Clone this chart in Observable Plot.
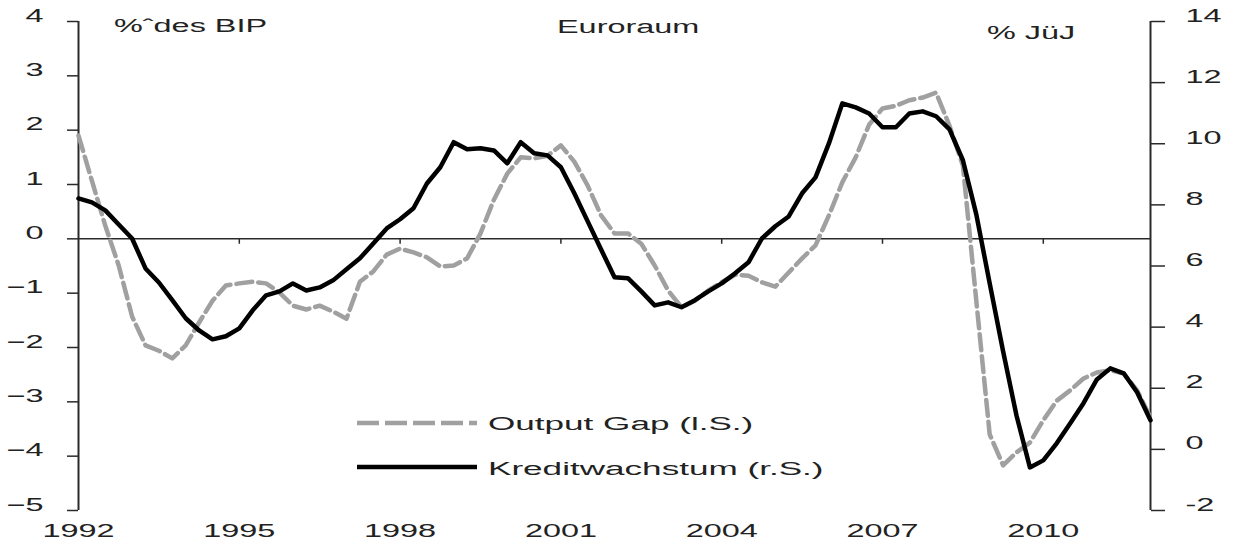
<!DOCTYPE html>
<html><head><meta charset="utf-8">
<script src="https://cdn.jsdelivr.net/npm/d3@7"></script>
<script src="https://cdn.jsdelivr.net/npm/@observablehq/plot@0.6"></script>
<style>
body{margin:0;background:#fff;}
#wrap{position:relative;width:1234px;height:545px;font-family:"Liberation Sans",Arial,sans-serif;color:#222;}
.ann{position:absolute;font-size:18px;line-height:1;white-space:nowrap;transform:scaleX(1.8);transform-origin:0 0;}
.ann.leg{transform:scaleX(1.95);}
.sw{position:absolute;}
</style></head><body><div id="wrap"></div>
<script>
// Quarterly data, 1992Q1 .. 2012Q1
const startYear = 1992;
const outputGap = [1.90,1.07,0.24,-0.49,-1.43,-1.96,-2.06,-2.20,-1.96,-1.54,
  -1.14,-0.86,-0.82,-0.79,-0.82,-0.99,-1.23,-1.30,-1.23,-1.34,
  -1.47,-0.79,-0.60,-0.29,-0.18,-0.25,-0.34,-0.51,-0.49,-0.36,
  0.10,0.72,1.20,1.50,1.48,1.53,1.72,1.42,0.98,0.43,
  0.10,0.10,-0.09,-0.49,-0.95,-1.26,-1.14,-0.95,-0.80,-0.66,
  -0.68,-0.80,-0.88,-0.62,-0.36,-0.12,0.43,1.04,1.50,2.10,
  2.40,2.45,2.55,2.60,2.69,2.08,1.35,-1.14,-3.60,-4.17,
  -3.93,-3.75,-3.34,-2.98,-2.79,-2.57,-2.46,-2.42,-2.48,-2.79,-3.29];
const kreditwachstum = [8.21,8.08,7.82,7.36,6.90,5.92,5.46,4.88,4.29,3.89,
  3.60,3.70,3.96,4.55,5.04,5.17,5.43,5.20,5.30,5.53,
  5.89,6.25,6.74,7.23,7.53,7.89,8.70,9.23,10.05,9.82,
  9.85,9.78,9.36,10.05,9.69,9.62,9.23,8.38,7.46,6.54,
  5.63,5.60,5.17,4.71,4.81,4.65,4.88,5.17,5.43,5.76,
  6.12,6.90,7.30,7.62,8.38,8.90,10.01,11.32,11.19,10.99,
  10.54,10.54,10.99,11.06,10.90,10.47,9.46,7.69,5.43,3.21,
  1.11,-0.59,-0.36,0.20,0.85,1.51,2.29,2.65,2.49,1.87,0.95];
const leftTicks = [-5,-4,-3,-2,-1,0,1,2,3,4];
const rightTicks = [-2,0,2,4,6,8,10,12,14];
const yearTicks = [1992,1995,1998,2001,2004,2007,2010];
const xDomain = [1992, 2012];
const seriesNames = ["Output Gap (l.S.)", "Kreditwachstum (r.S.)"];
const titleText = "Euroraum";
const leftUnit = "%ˆdes BIP";
const rightUnit = "% JüJ";

const L = leftTicks, R = rightTicks;
// map right-axis values onto left scale
const toLeft = r => (r - R[0]) * (L[L.length-1] - L[0]) / (R[R.length-1] - R[0]) + L[0];
const toRight = l => (l - L[0]) * (R[R.length-1] - R[0]) / (L[L.length-1] - L[0]) + R[0];

const data = outputGap.map((v, i) => ({t: startYear + i / 4, gap: v, kredit: toLeft(kreditwachstum[i])}));

const axisColor = "#2a2a2a";
const chart = Plot.plot({
  width: 1234, height: 545,
  marginTop: 21, marginBottom: 35, marginLeft: 78, marginRight: 84,
  x: {domain: xDomain},
  y: {domain: [L[0], L[L.length-1]]},
  style: {fontFamily: '"Liberation Sans", Arial, sans-serif', fontSize: "18px", color: "#222", background: "white", overflow: "visible"},
  marks: [
    Plot.ruleY([0], {stroke: axisColor, strokeWidth: 1.5}),
    Plot.ruleX(yearTicks.slice(1), {y1: 0, y2: -0.1, stroke: axisColor, strokeWidth: 1.5}),
    Plot.ruleX([xDomain[0]], {y1: L[0], y2: L[L.length-1], stroke: axisColor, strokeWidth: 2}),
    Plot.ruleX([xDomain[1]], {y1: L[0], y2: L[L.length-1], stroke: axisColor, strokeWidth: 2}),
    Plot.axisY({ticks: leftTicks, anchor: "left", tickSize: 11, tickPadding: 24, strokeWidth: 1.5, stroke: axisColor, label: null}),
    Plot.axisY({ticks: rightTicks.map(toLeft), anchor: "right", tickSize: 14, tickPadding: 21, strokeWidth: 1.5, stroke: axisColor, label: null,
      tickFormat: d => String(Math.round(toRight(d)))}),
    Plot.axisX({ticks: yearTicks, anchor: "bottom", tickSize: 0, tickPadding: 26, label: null, tickFormat: d => String(d)}),
    Plot.line(data, {x: "t", y: "gap", stroke: "#a0a0a0", strokeWidth: 4.5, strokeDasharray: "16,6"}),
    Plot.line(data, {x: "t", y: "kredit", stroke: "#000", strokeWidth: 4.5})
  ]
});

// horizontally stretch the text like the reference
const SX = 1.8;
for (const t of chart.querySelectorAll("text")) {
  const x = +t.getAttribute("x") || 0, y = +t.getAttribute("y") || 0;
  t.removeAttribute("x"); t.removeAttribute("y");
  const tr = t.getAttribute("transform") || "";
  t.setAttribute("transform", `${tr} translate(${x},${y}) scale(${SX},1)`);
}

const wrap = document.getElementById("wrap");
wrap.appendChild(chart);

function ann(text, left, top, cls) {
  const d = document.createElement("div");
  d.className = "ann" + (cls ? " " + cls : ""); d.textContent = text;
  d.style.left = left + "px"; d.style.top = top + "px";
  wrap.appendChild(d);
}
function swatch(left, top, dash, color) {
  const ns = "http://www.w3.org/2000/svg";
  const s = document.createElementNS(ns, "svg");
  s.setAttribute("width", 122); s.setAttribute("height", 10);
  s.setAttribute("class", "sw");
  s.style.left = left + "px"; s.style.top = top + "px";
  const l = document.createElementNS(ns, "line");
  l.setAttribute("x1", 0); l.setAttribute("x2", 120); l.setAttribute("y1", 5); l.setAttribute("y2", 5);
  l.setAttribute("stroke", color); l.setAttribute("stroke-width", 4.5);
  if (dash) l.setAttribute("stroke-dasharray", dash);
  s.appendChild(l);
  wrap.appendChild(s);
}
ann(leftUnit, 114, 17);
ann(titleText, 557, 18);
ann(rightUnit, 987, 24);
swatch(357, 418, "22,6", "#a0a0a0");
swatch(357, 462, null, "#000");
ann(seriesNames[0], 488, 415, "leg");
ann(seriesNames[1], 488, 460, "leg");
</script></body></html>
